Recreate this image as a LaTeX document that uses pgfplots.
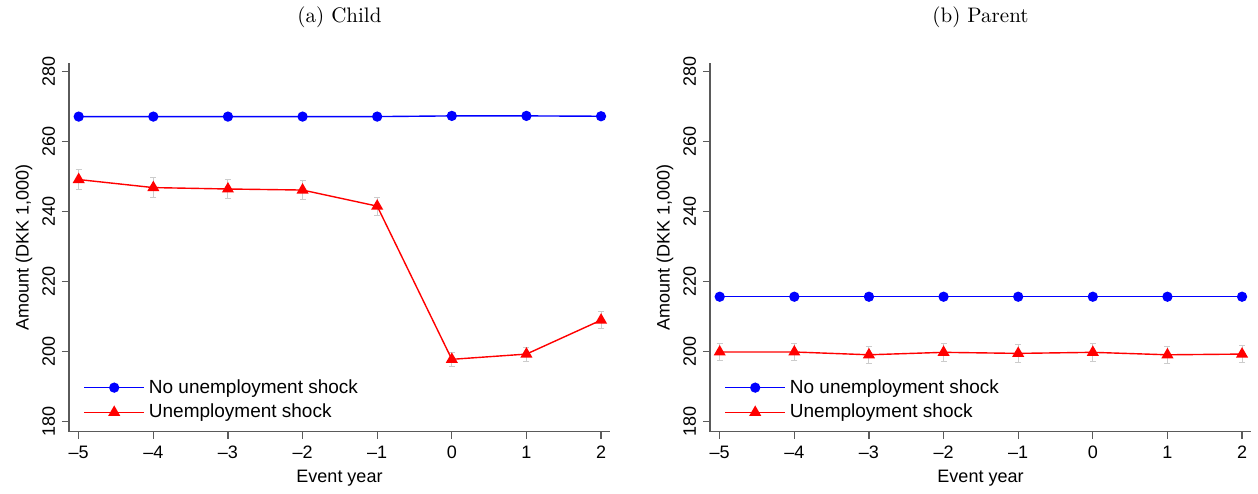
\documentclass[border=0pt]{standalone}
\usepackage{pgfplots}
\pgfplotsset{compat=1.18}
\usepackage{fontspec}
\setmainfont{Liberation Sans}
\newfontfamily\serif{Latin Modern Roman}
\definecolor{axg}{RGB}{90,90,90}
\pgfplotsset{
  myax/.style={scale only axis, width=270.5pt, height=184.5pt,
    xmin=-5.13, xmax=2.12, ymin=177.1, ymax=282.6,
    axis x line*=bottom, axis y line*=left,
    axis line style={axg, line width=0.6pt},
    tick style={axg, line width=0.6pt}, tick align=outside, major tick length=3.5pt,
    xtick={-5,...,2}, xticklabels={--5,--4,--3,--2,--1,0,1,2},
    ytick={180,200,...,280},
    yticklabel style={rotate=90, anchor=south},
    tick label style={font=\fontsize{9}{10}\selectfont},
    label style={font=\fontsize{9}{10}\selectfont},
    /pgf/number format/assume math mode=true,
    xlabel={Event year}, ylabel={Amount (DKK 1,000)},
    xlabel style={yshift=1pt}, ylabel style={yshift=-2pt},
    legend style={draw=none, fill=none, at={(0.015,0.165)}, anchor=north west,
      font=\fontsize{9.5}{11}\selectfont, row sep=0pt},
    legend cell align=left,
    legend image code/.code={\draw[#1] (0pt,0pt) -- (30pt,0pt); \draw[#1] plot coordinates {(15pt,0pt)};},
    title style={font=\serif\fontsize{10.5}{12}\selectfont, yshift=8pt},
  },
  eb/.style={draw=none, mark=none, forget plot, error bars/.cd, y dir=both, y explicit,
    error bar style={gray!40, line width=0.5pt}, error mark options={gray!40, mark size=1.5pt, rotate=90}},
  bl/.style={color=blue, line width=0.7pt, mark=*, mark size=2.2pt, mark options={blue, fill=blue}},
  rd/.style={color=red, line width=0.7pt, mark=triangle*, mark size=2.8pt, mark options={red, fill=red}},
}
\begin{document}
\begin{tikzpicture}
\path (-34.5pt,-29.5pt) rectangle (594.5pt,215.5pt);
\begin{axis}[myax, at={(0pt,0pt)}, title={(a) Child}]
\addplot[eb] coordinates {(-5,249.2) +- (0,2.8) (-4,246.9) +- (0,2.8) (-3,246.5) +- (0,2.8) (-2,246.2) +- (0,2.8) (-1,241.6) +- (0,2.6) (0,197.8) +- (0,2.0) (1,199.3) +- (0,2.0) (2,209.0) +- (0,2.4)};
\addplot[bl] coordinates {(-5,267.2) (-4,267.2) (-3,267.2) (-2,267.2) (-1,267.2) (0,267.4) (1,267.4) (2,267.3)};
\addplot[rd] coordinates {(-5,249.2) (-4,246.9) (-3,246.5) (-2,246.2) (-1,241.6) (0,197.8) (1,199.3) (2,209.0)};
\legend{No unemployment shock, Unemployment shock}
\end{axis}
\begin{axis}[myax, at={(320.5pt,0pt)}, title={(b) Parent}]
\addplot[eb] coordinates {(-5,199.9) +- (0,2.5) (-4,199.9) +- (0,2.5) (-3,199.1) +- (0,2.5) (-2,199.8) +- (0,2.5) (-1,199.5) +- (0,2.5) (0,199.8) +- (0,2.5) (1,199.1) +- (0,2.5) (2,199.3) +- (0,2.5)};
\addplot[bl] coordinates {(-5,215.7) (-4,215.7) (-3,215.7) (-2,215.7) (-1,215.7) (0,215.7) (1,215.7) (2,215.7)};
\addplot[rd] coordinates {(-5,199.9) (-4,199.9) (-3,199.1) (-2,199.8) (-1,199.5) (0,199.8) (1,199.1) (2,199.3)};
\legend{No unemployment shock, Unemployment shock}
\end{axis}
\end{tikzpicture}
\end{document}
